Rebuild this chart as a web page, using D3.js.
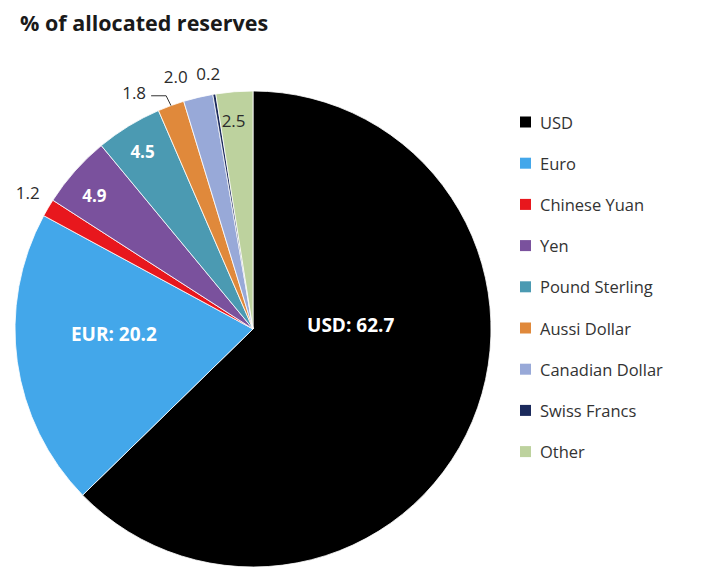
<!DOCTYPE html>
<html>
<head>
<meta charset="utf-8">
<script src="https://cdn.jsdelivr.net/npm/d3@7"></script>
<style>
  html, body { margin: 0; padding: 0; background: #ffffff; }
  svg { display: block; }
</style>
</head>
<body>
<svg id="chart" width="703" height="568"></svg>
<script>
// Share of allocated FX reserves by currency (%)
const currencies = ["USD", "Euro", "Chinese Yuan", "Yen", "Pound Sterling", "Aussi Dollar", "Canadian Dollar", "Swiss Francs", "Other"];
const shares     = [62.7, 20.2, 1.2, 4.9, 4.5, 1.8, 2.0, 0.2, 2.5];
const colors     = ["#000000", "#43a7ea", "#e8171d", "#7a519d", "#4b9ab2", "#e0893b", "#98a9d8", "#1b2a5c", "#bdd29e"];
const labelPrefix = ["USD: ", "EUR: ", "", "", "", "", "", "", ""];

const svg = d3.select("#chart");
const cx = 253, cy = 329, R = 238;

// Title
svg.append("text")
  .attr("x", 20).attr("y", 31)
  .attr("font-family", "'Open Sans', sans-serif")
  .attr("font-weight", "bold")
  .attr("font-size", 21.5)
  .attr("fill", "#1a1a1a")
  .text("% of allocated reserves");

const data = currencies.map((c, i) => ({ name: c, value: shares[i], color: colors[i] }));

const pie = d3.pie().sort(null).value(d => d.value);
const arcs = pie(data);
const arc = d3.arc().innerRadius(0).outerRadius(R);

const g = svg.append("g").attr("transform", `translate(${cx},${cy})`);

g.selectAll("path.slice")
  .data(arcs)
  .join("path")
  .attr("class", "slice")
  .attr("d", arc)
  .attr("fill", d => d.data.color)
  .attr("stroke", "#ffffff")
  .attr("stroke-width", 0.8);

// Label placement: radius factor (relative to R) plus a pixel nudge for each slice
const labelRadius = [0.45, 0.59, 1.1, 0.7, 0.8, 1.12, 1.08, 1.08, 0.88];
const labelNudge  = [[-1, -46], [0, -14], [0, -3], [-34, -23], [-11, -15], [-27, 14], [-18, -2], [-3, -2], [-3, 0]];
const insideWhite = [true, true, false, true, true, false, false, false, false];
const labelSize   = [19, 19, 17, 17, 17, 17, 17, 17, 17];

function centroidAt(d, f) {
  const a = (d.startAngle + d.endAngle) / 2;
  return [Math.sin(a) * R * f, -Math.cos(a) * R * f];
}

const labelPos = arcs.map((d, i) => {
  const p = centroidAt(d, labelRadius[i]);
  return [p[0] + labelNudge[i][0], p[1] + labelNudge[i][1]];
});

g.selectAll("text.value")
  .data(arcs)
  .join("text")
  .attr("class", "value")
  .attr("x", (d, i) => labelPos[i][0])
  .attr("y", (d, i) => labelPos[i][1])
  .attr("text-anchor", "middle")
  .attr("dominant-baseline", "central")
  .attr("font-family", "'Open Sans', sans-serif")
  .attr("font-weight", (d, i) => insideWhite[i] ? "bold" : "normal")
  .attr("font-size", (d, i) => labelSize[i])
  .attr("fill", (d, i) => insideWhite[i] ? "#ffffff" : "#2b2b2b")
  .text((d, i) => labelPrefix[i] + d.data.value.toFixed(1));

// Leader line for the Aussi Dollar label
{
  const d = arcs[5];
  const edge = centroidAt(d, 1.0);
  const lx = labelPos[5][0] + 17, ly = labelPos[5][1] + 3;
  g.append("path")
    .attr("d", `M${lx},${ly} H${lx + 15} L${edge[0]},${edge[1]}`)
    .attr("fill", "none")
    .attr("stroke", "#333333")
    .attr("stroke-width", 1);
}

// Legend
const legend = svg.append("g").attr("transform", "translate(520,122)");
const rowH = 41.2;
const rows = legend.selectAll("g.row")
  .data(data)
  .join("g")
  .attr("class", "row")
  .attr("transform", (d, i) => `translate(0,${i * rowH})`);

rows.append("rect")
  .attr("x", 0).attr("y", -5.5)
  .attr("width", 11).attr("height", 11)
  .attr("fill", d => d.color);

rows.append("text")
  .attr("x", 20).attr("y", 0)
  .attr("dominant-baseline", "central")
  .attr("font-family", "'Open Sans', sans-serif")
  .attr("font-size", 16.5)
  .attr("fill", "#333333")
  .text(d => d.name);
</script>
</body>
</html>
